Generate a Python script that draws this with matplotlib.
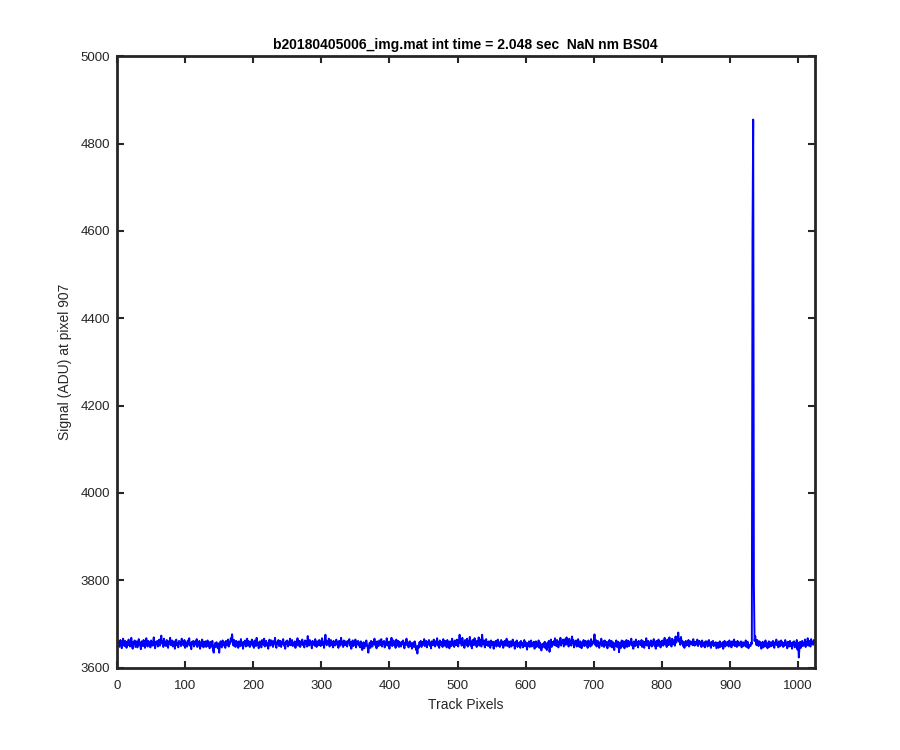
import matplotlib
matplotlib.use("Agg")
import matplotlib.pyplot as plt

plt.rcParams['font.family'] = ['Liberation Sans', 'DejaVu Sans']

title_text = "b20180405006_img.mat int time = 2.048 sec  NaN nm BS04"
x_label = "Track Pixels"
y_label = "Signal (ADU) at pixel 907"
x_ticks = [0, 100, 200, 300, 400, 500, 600, 700, 800, 900, 1000]
y_ticks = [3600, 3800, 4000, 4200, 4400, 4600, 4800, 5000]

signal_adu = [
    3652, 3660, 3647, 3655, 3663, 3650, 3644, 3658, 3666, 3653, 3649, 3661, 3656, 3645, 3659, 3651,
    3664, 3657, 3648, 3654, 3668, 3650, 3643, 3659, 3655, 3662, 3647, 3653, 3660, 3646, 3657, 3665,
    3651, 3656, 3642, 3660, 3654, 3649, 3663, 3657, 3645, 3652, 3667, 3655, 3648, 3661, 3653, 3658,
    3646, 3662, 3655, 3650, 3657, 3669, 3652, 3644, 3659, 3654, 3661, 3648, 3656, 3664, 3650, 3658,
    3673, 3655, 3660, 3647, 3666, 3652, 3658, 3649, 3663, 3656, 3645, 3660, 3654, 3668, 3651, 3657,
    3662, 3648, 3655, 3660, 3643, 3657, 3664, 3651, 3656, 3646, 3661, 3654, 3659, 3649, 3666, 3653,
    3657, 3650, 3663, 3645, 3658, 3655, 3648, 3662, 3653, 3667, 3650, 3656, 3642, 3659, 3654, 3661,
    3648, 3656, 3660, 3652, 3665, 3647, 3658, 3654, 3661, 3643, 3655, 3650, 3664, 3657, 3646, 3659,
    3653, 3660, 3647, 3655, 3662, 3649, 3657, 3644, 3659, 3652, 3648, 3661, 3639, 3634, 3650, 3656,
    3647, 3658, 3652, 3644, 3655, 3634, 3649, 3660, 3653, 3646, 3662, 3655, 3650, 3658, 3645, 3661,
    3656, 3651, 3664, 3648, 3659, 3654, 3667, 3660, 3676, 3657, 3650, 3663, 3655, 3647, 3661, 3652,
    3658, 3645, 3660, 3654, 3649, 3665, 3651, 3657, 3643, 3659, 3655, 3662, 3648, 3656, 3666, 3650,
    3661, 3653, 3647, 3659, 3655, 3664, 3650, 3657, 3645, 3662, 3654, 3649, 3668, 3652, 3658, 3644,
    3655, 3660, 3651, 3646, 3663, 3657, 3652, 3666, 3648, 3656, 3661, 3650, 3655, 3643, 3659, 3664,
    3650, 3657, 3662, 3653, 3647, 3660, 3655, 3668, 3651, 3645, 3658, 3654, 3663, 3649, 3656, 3661,
    3647, 3659, 3654, 3665, 3650, 3656, 3643, 3660, 3655, 3662, 3648, 3657, 3652, 3666, 3651, 3658,
    3663, 3649, 3656, 3652, 3660, 3645, 3658, 3654, 3667, 3650, 3655, 3661, 3647, 3659, 3653, 3664,
    3651, 3657, 3646, 3662, 3655, 3660, 3648, 3672, 3656, 3650, 3663, 3653, 3658, 3644, 3661, 3655,
    3659, 3650, 3665, 3654, 3647, 3660, 3656, 3651, 3663, 3657, 3649, 3655, 3667, 3652, 3658, 3645,
    3662, 3675, 3657, 3651, 3660, 3654, 3666, 3648, 3656, 3663, 3652, 3659, 3646, 3661, 3655, 3650,
    3657, 3664, 3652, 3658, 3645, 3661, 3655, 3650, 3668, 3654, 3659, 3647, 3662, 3656, 3651, 3660,
    3653, 3648, 3661, 3656, 3665, 3650, 3658, 3643, 3655, 3662, 3649, 3657, 3652, 3664, 3646, 3659,
    3655, 3661, 3650, 3657, 3646, 3660, 3653, 3640, 3651, 3658, 3644, 3656, 3649, 3662, 3652, 3647,
    3634, 3650, 3657, 3645, 3661, 3653, 3648, 3659, 3655, 3666, 3651, 3657, 3644, 3660, 3654, 3649,
    3662, 3656, 3651, 3665, 3648, 3658, 3654, 3661, 3646, 3657, 3652, 3667, 3650, 3659, 3655, 3643,
    3660, 3653, 3668, 3649, 3656, 3662, 3651, 3657, 3645, 3664, 3655, 3650, 3661, 3647, 3658, 3653,
    3648, 3659, 3655, 3662, 3650, 3644, 3657, 3653, 3666, 3651, 3658, 3646, 3655, 3660, 3649, 3656,
    3643, 3651, 3657, 3647, 3660, 3654, 3640, 3648, 3632, 3650, 3645, 3658, 3653, 3661, 3647, 3656,
    3659, 3652, 3665, 3649, 3656, 3661, 3646, 3658, 3654, 3663, 3650, 3657, 3644, 3660, 3655, 3651,
    3664, 3655, 3648, 3660, 3653, 3667, 3650, 3657, 3645, 3662, 3656, 3651, 3659, 3647, 3665, 3654,
    3650, 3661, 3656, 3646, 3663, 3652, 3658, 3644, 3660, 3655, 3649, 3666, 3653, 3659, 3647, 3662,
    3657, 3651, 3664, 3655, 3648, 3661, 3675, 3656, 3662, 3650, 3668, 3654, 3659, 3645, 3663, 3657,
    3652, 3666, 3648, 3660, 3655, 3670, 3650, 3658, 3644, 3663, 3656, 3651, 3667, 3653, 3660, 3647,
    3661, 3655, 3669, 3650, 3657, 3664, 3648, 3675, 3659, 3653, 3662, 3646, 3657, 3665, 3651, 3658,
    3649, 3660, 3654, 3645, 3662, 3656, 3651, 3659, 3643, 3657, 3653, 3661, 3648, 3655, 3664, 3650,
    3658, 3647, 3656, 3663, 3652, 3659, 3645, 3654, 3661, 3650, 3657, 3666, 3649, 3655, 3660, 3646,
    3653, 3660, 3648, 3655, 3664, 3651, 3657, 3643, 3659, 3654, 3662, 3647, 3656, 3650, 3658, 3645,
    3661, 3652, 3657, 3646, 3655, 3663, 3649, 3658, 3653, 3641, 3656, 3650, 3660, 3647, 3654, 3662,
    3648, 3656, 3651, 3659, 3643, 3654, 3660, 3647, 3655, 3652, 3662, 3645, 3657, 3650, 3639, 3653,
    3646, 3655, 3650, 3659, 3644, 3653, 3640, 3657, 3648, 3661, 3636, 3652, 3664, 3647, 3658, 3654,
    3660, 3651, 3667, 3655, 3649, 3663, 3657, 3646, 3660, 3653, 3668, 3650, 3659, 3656, 3664, 3648,
    3657, 3665, 3652, 3669, 3655, 3661, 3648, 3666, 3654, 3660, 3650, 3671, 3657, 3663, 3646, 3659,
    3653, 3662, 3648, 3657, 3665, 3651, 3647, 3660, 3655, 3644, 3658, 3652, 3663, 3649, 3656, 3661,
    3650, 3657, 3645, 3662, 3654, 3659, 3648, 3665, 3651, 3657, 3660, 3655, 3676, 3652, 3663, 3648,
    3656, 3661, 3650, 3645, 3658, 3653, 3666, 3649, 3655, 3660, 3647, 3662, 3654, 3650, 3659, 3644,
    3657, 3652, 3663, 3648, 3655, 3661, 3646, 3658, 3653, 3640, 3656, 3650, 3662, 3647, 3654, 3659,
    3635, 3650, 3657, 3645, 3662, 3653, 3648, 3660, 3644, 3656, 3651, 3663, 3647, 3655, 3661, 3649,
    3658, 3654, 3666, 3650, 3657, 3643, 3660, 3655, 3649, 3664, 3652, 3658, 3646, 3661, 3653, 3657,
    3651, 3663, 3647, 3656, 3660, 3645, 3658, 3652, 3667, 3650, 3655, 3661, 3644, 3657, 3653, 3662,
    3648, 3659, 3654, 3665, 3650, 3657, 3643, 3661, 3655, 3649, 3664, 3652, 3658, 3646, 3660, 3655,
    3662, 3650, 3657, 3668, 3653, 3659, 3647, 3664, 3656, 3651, 3669, 3655, 3660, 3648, 3666, 3657,
    3654, 3663, 3650, 3671, 3657, 3662, 3668, 3680, 3659, 3665, 3652, 3670, 3656, 3661, 3649, 3658,
    3645, 3655, 3661, 3650, 3657, 3652, 3663, 3648, 3656, 3660, 3654, 3659, 3651, 3665, 3655, 3650,
    3659, 3652, 3657, 3664, 3649, 3656, 3661, 3653, 3658, 3647, 3662, 3655, 3650, 3657, 3646, 3660,
    3654, 3660, 3648, 3655, 3663, 3650, 3657, 3645, 3659, 3653, 3661, 3649, 3656, 3651, 3658, 3644,
    3650, 3657, 3645, 3652, 3660, 3647, 3654, 3649, 3658, 3643, 3655, 3661, 3648, 3656, 3651, 3659,
    3655, 3648, 3662, 3653, 3657, 3646, 3660, 3651, 3656, 3664, 3649, 3658, 3653, 3647, 3661, 3655,
    3650, 3657, 3652, 3660, 3646, 3655, 3658, 3649, 3656, 3651, 3662, 3647, 3655, 3659, 3644, 3650,
    3652, 3649, 3657, 3654, 4585, 4855, 3790, 3661, 3672, 3658, 3651, 3663, 3655, 3649, 3660, 3656,
    3657, 3643, 3651, 3659, 3646, 3655, 3650, 3662, 3648, 3656, 3644, 3652, 3660, 3647, 3654, 3658,
    3649, 3656, 3661, 3650, 3645, 3658, 3653, 3664, 3651, 3657, 3646, 3660, 3655, 3649, 3662, 3653,
    3658, 3647, 3655, 3650, 3663, 3652, 3657, 3644, 3659, 3654, 3648, 3661, 3650, 3656, 3643, 3658,
    3652, 3660, 3646, 3655, 3650, 3663, 3641, 3657, 3623, 3648, 3659, 3645, 3654, 3661, 3649, 3656,
    3651, 3664, 3647, 3658, 3653, 3667, 3650, 3656, 3661, 3648, 3665, 3654, 3659, 3652, 3663, 3657,
]
pixel_index = list(range(1, len(signal_adu) + 1))

axis_color = '#262626'

fig = plt.figure(figsize=(9, 7.5), dpi=100)
ax = fig.add_axes([0.13, 0.11, 0.775, 0.815])
ax.plot(pixel_index, signal_adu, color='#0000ff', linewidth=1.4)

ax.set_xlim(0, 1024)
ax.set_ylim(3600, 5000)
ax.set_xticks(x_ticks)
ax.set_yticks(y_ticks)
ax.tick_params(direction='in', length=5, width=1.5, colors=axis_color,
               labelsize=9.5, top=True, right=True)
ax.tick_params(axis='x', pad=9)
ax.tick_params(axis='y', pad=5)
for sp in ax.spines.values():
    sp.set_linewidth(2.0)
    sp.set_color(axis_color)

ax.set_xlabel(x_label, fontsize=10, color=axis_color, labelpad=4)
ax.set_ylabel(y_label, fontsize=10, color=axis_color, labelpad=6)
ax.set_title(title_text, fontsize=10, fontweight='bold', color='black', pad=5)

fig.savefig('out.png', dpi=100, facecolor='white')
